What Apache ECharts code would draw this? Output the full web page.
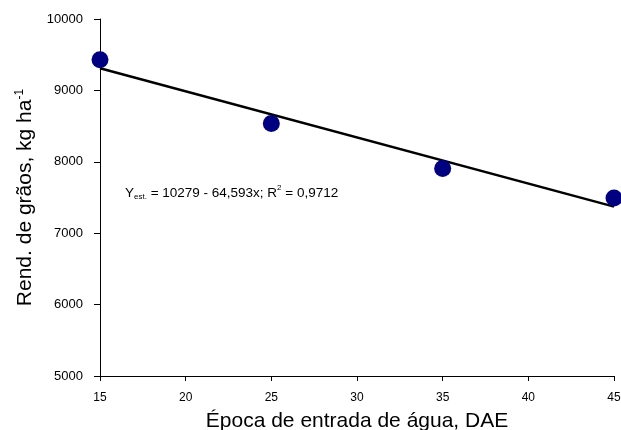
<!DOCTYPE html>
<html>
<head>
<meta charset="utf-8">
<script src="https://cdn.jsdelivr.net/npm/echarts@6/dist/echarts.min.js"></script>
<style>
  html, body { margin: 0; padding: 0; background: #fff; }
  #chart-panel { width: 621px; height: 430px; }
</style>
</head>
<body>
<div id="chart-panel"></div>
<script>
// dados
var epocas = [15, 25, 35, 45];
var rendimento = [9430, 8535, 7905, 7492];
var yTicks = [5000, 6000, 7000, 8000, 9000, 10000];
var xTicks = [15, 20, 25, 30, 35, 40, 45];
// regressao: Y = 10279 - 64,593x
var intercepto = 10279;
var inclinacao = -64.593;

var linha = [epocas[0], epocas[epocas.length - 1]].map(function (x) {
  return [x, intercepto + inclinacao * x];
});

var chart = document.getElementById('chart-panel');
var myChart = echarts.init(chart);

var fonte = 'Liberation Sans, Arial, sans-serif';

var option = {
  animation: false,
  backgroundColor: '#fff',
  grid: { left: 100, right: 7, top: 19, bottom: 54, outerBoundsMode: 'none', containLabel: false },
  xAxis: {
    type: 'value',
    min: xTicks[0],
    max: xTicks[xTicks.length - 1],
    interval: 5,
    name: 'Época de entrada de água, DAE',
    nameLocation: 'middle',
    nameGap: 35,
    nameTextStyle: { fontSize: 21, color: '#000', fontFamily: fonte },
    axisLine: { lineStyle: { color: '#000', width: 1 } },
    axisTick: { length: 5, lineStyle: { color: '#000' } },
    axisLabel: { fontSize: 12, color: '#000', fontFamily: fonte, margin: 16 },
    splitLine: { show: false }
  },
  yAxis: {
    type: 'value',
    min: yTicks[0],
    max: yTicks[yTicks.length - 1],
    interval: 1000,
    name: '{a|Rend. de grãos, kg ha}{b|-1}',
    nameLocation: 'middle',
    nameGap: 62,
    nameTextStyle: {
      rich: {
        a: { fontSize: 21, color: '#000', fontFamily: fonte, lineHeight: 24 },
        b: { fontSize: 12, color: '#000', fontFamily: fonte, verticalAlign: 'top', lineHeight: 24 }
      }
    },
    axisLine: { show: true, lineStyle: { color: '#000', width: 1 } },
    axisTick: { show: true, length: 6, lineStyle: { color: '#000' } },
    axisLabel: {
      fontSize: 13, color: '#000', fontFamily: fonte, margin: 17,
      formatter: function (v) { return String(v); }
    },
    splitLine: { show: false }
  },
  series: [
    {
      type: 'line',
      data: linha,
      symbol: 'none',
      lineStyle: { color: '#000', width: 2.5 },
      z: 2
    },
    {
      type: 'scatter',
      data: epocas.map(function (x, i) { return [x, rendimento[i]]; }),
      symbolSize: 17,
      itemStyle: { color: '#000080', opacity: 1 },
      z: 3
    }
  ],
  graphic: [
    {
      type: 'text',
      left: 125,
      top: 184,
      style: {
        text: '{a|Y}{s|est.}{a| = 10279 - 64,593x; R}{p|2}{a| = 0,9712}',
        rich: {
          a: { fontSize: 13.5, fill: '#000', fontFamily: fonte, lineHeight: 18 },
          s: { fontSize: 8, fill: '#000', fontFamily: fonte, verticalAlign: 'bottom', lineHeight: 18, padding: [0, 0, 1, 0] },
          p: { fontSize: 8, fill: '#000', fontFamily: fonte, verticalAlign: 'top', lineHeight: 18 }
        }
      }
    }
  ]
};

myChart.setOption(option);
</script>
</body>
</html>
